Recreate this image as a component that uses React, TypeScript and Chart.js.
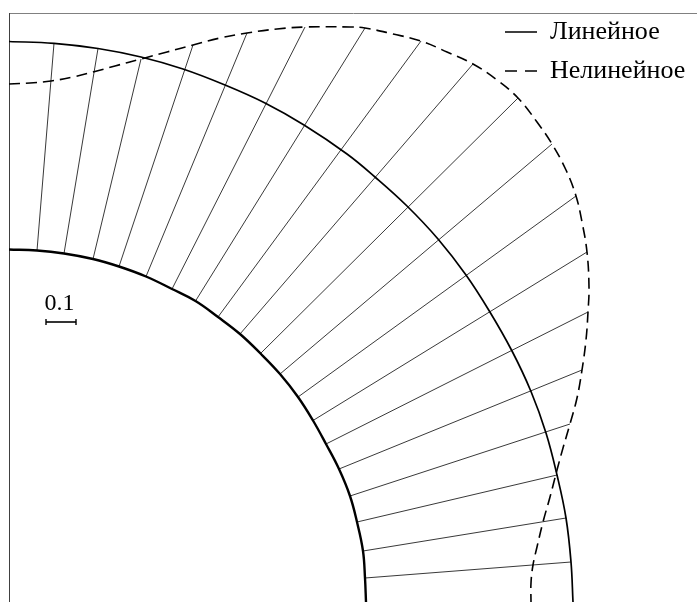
import React, { useEffect, useRef } from "react";
import { Chart, registerables } from "chart.js";

Chart.register(...registerables);

type Pair = [number, number];

const linearLabel = "Линейное";
const nonlinearLabel = "Нелинейное";
const scaleLabel = "0.1";

const innerCurve: Pair[] = [
  [0, 355.5], [28, 354.5], [55, 351.5], [84, 346], [110, 338.5], [137, 328.5], [163, 316],
  [186.5, 304], [209, 288], [231, 271], [251.5, 251.5], [271, 231], [289, 208], [304, 184.5],
  [317, 161], [330, 136], [341, 109], [348, 83], [354, 54], [356, 27], [357, 3],
];

const linearCurve: Pair[] = [
  [0, 563.5], [45, 561.7], [89, 556.5], [132, 548], [174, 536], [216, 520], [256, 502],
  [295, 480], [338, 451], [366, 428], [398, 399], [429, 366], [457, 330], [480, 294.5],
  [503, 254], [522, 213.5], [537, 172], [548, 130], [557, 87], [562, 43], [564, 3],
];

const nonlinearCurve: Pair[] = [
  [0, 521], [21, 522], [42, 524], [64, 528], [84, 533], [106, 539], [132, 546],
  [158, 553], [184, 560], [211, 567], [238, 572], [268, 576], [296, 578], [341, 578],
  [356, 577], [384, 571], [412, 564], [438, 553], [464, 541], [488, 525], [509, 507],
  [528, 483], [543, 461], [557, 435], [567, 409], [573, 383], [578, 353], [580, 318],
  [579, 293], [577, 265], [573, 235], [568, 207], [561, 181], [554, 157], [548, 135],
  [541, 108], [534, 83], [528, 58], [524, 40], [522, 22], [522, 3],
];

const spokeStarts: Pair[] = innerCurve.slice(1, 20);

const spokeEnds: Pair[] = [
  [45, 561.7], [89, 556.5], [132, 546], [184, 560], [238, 572], [296, 578], [356, 577],
  [412, 564], [464, 541], [509, 507], [543, 461], [567, 409], [578, 353], [579, 293],
  [573, 235], [561, 181], [548, 130], [557, 87], [562, 43],
];

const scaleBar: Pair[] = [[37, 283], [67, 283]];

const toPoints = (pairs: Pair[]) => pairs.map(([x, y]) => ({ x, y }));

const spokePoints = spokeStarts.flatMap(([x, y], i) => [
  { x, y },
  { x: spokeEnds[i][0], y: spokeEnds[i][1] },
  { x: null as unknown as number, y: null as unknown as number },
]);

const serif = "'Liberation Serif', 'Times New Roman', serif";

const scaleTextPlugin = {
  id: "scaleText",
  afterDatasetsDraw(chart: Chart) {
    const { ctx, scales } = chart;
    const [a, b] = scaleBar;
    const cx = scales.x.getPixelForValue((a[0] + b[0]) / 2);
    const cy = scales.y.getPixelForValue(a[1]);
    ctx.save();
    ctx.font = `24px ${serif}`;
    ctx.fillStyle = "#000";
    ctx.textAlign = "center";
    ctx.textBaseline = "alphabetic";
    ctx.fillText(scaleLabel, cx - 1.5, cy - 12);
    ctx.restore();
  },
};

const legendPlacePlugin = {
  id: "legendPlace",
  afterLayout(chart: any) {
    const legend = chart.legend;
    if (!legend) return;
    const dx = 505 - legend.left - legend.options.labels.padding;
    legend.left += dx;
    legend.right += dx;
    legend.top = 6;
    legend.bottom = 6 + legend.height;
  },
};

export default function App() {
  const ref = useRef<HTMLCanvasElement | null>(null);

  useEffect(() => {
    const chart = new Chart(ref.current!, {
      type: "line",
      data: {
        datasets: [
          {
            label: linearLabel,
            data: toPoints(linearCurve),
            borderColor: "#000",
            borderWidth: 1.7,
            tension: 0.4,
            pointRadius: 0,
          },
          {
            label: nonlinearLabel,
            data: toPoints(nonlinearCurve),
            borderColor: "#000",
            borderWidth: 1.6,
            borderDash: [11, 6],
            tension: 0.4,
            pointRadius: 0,
          },
          {
            data: toPoints(innerCurve),
            borderColor: "#000",
            borderWidth: 2.4,
            tension: 0.4,
            pointRadius: 0,
          },
          {
            data: spokePoints,
            borderColor: "#222",
            borderWidth: 0.9,
            tension: 0,
            pointRadius: 0,
            spanGaps: false,
          },
          {
            data: toPoints(scaleBar),
            borderColor: "#000",
            borderWidth: 1.6,
            tension: 0,
            pointStyle: "line",
            pointRotation: 90,
            pointRadius: 3,
            pointBorderColor: "#000",
            pointBorderWidth: 1.4,
          },
        ],
      } as any,
      options: {
        responsive: false,
        animation: false,
        devicePixelRatio: 1,
        parsing: false,
        normalized: false,
        layout: { autoPadding: false, padding: { left: 9, top: 13, right: 0, bottom: 0 } },
        events: [],
        scales: {
          x: {
            type: "linear",
            position: "top",
            min: 0,
            max: 688,
            grid: { display: false, drawTicks: false },
            border: { display: true, color: "#808080", width: 1 },
            ticks: { display: false },
          },
          y: {
            type: "linear",
            position: "left",
            min: 3,
            max: 592,
            grid: { display: false, drawTicks: false },
            border: { display: true, color: "#404040", width: 1 },
            ticks: { display: false },
          },
        },
        plugins: {
          title: { display: false },
          tooltip: { enabled: false },
          legend: {
            display: true,
            position: "chartArea",
            align: "start",
            labels: {
              boxWidth: 32,
              boxHeight: 0,
              padding: 13,
              color: "#000",
              font: { family: serif, size: 26 },
              generateLabels(c: Chart) {
                const items = Chart.defaults.plugins.legend.labels.generateLabels(c);
                return items
                  .filter((it: any) => it.text)
                  .map((it: any) => ({
                    ...it,
                    fillStyle: "rgba(0,0,0,0)",
                    lineWidth: 1.5,
                    lineDash: it.text === nonlinearLabel ? [12, 8, 12, 32] : [],
                  }));
              },
            },
          },
        },
      } as any,
      plugins: [scaleTextPlugin, legendPlacePlugin],
    });
    return () => chart.destroy();
  }, []);

  return (
    <canvas
      ref={ref}
      width={697}
      height={602}
      style={{ position: "absolute", left: 0, top: 0, display: "block" }}
    />
  );
}
